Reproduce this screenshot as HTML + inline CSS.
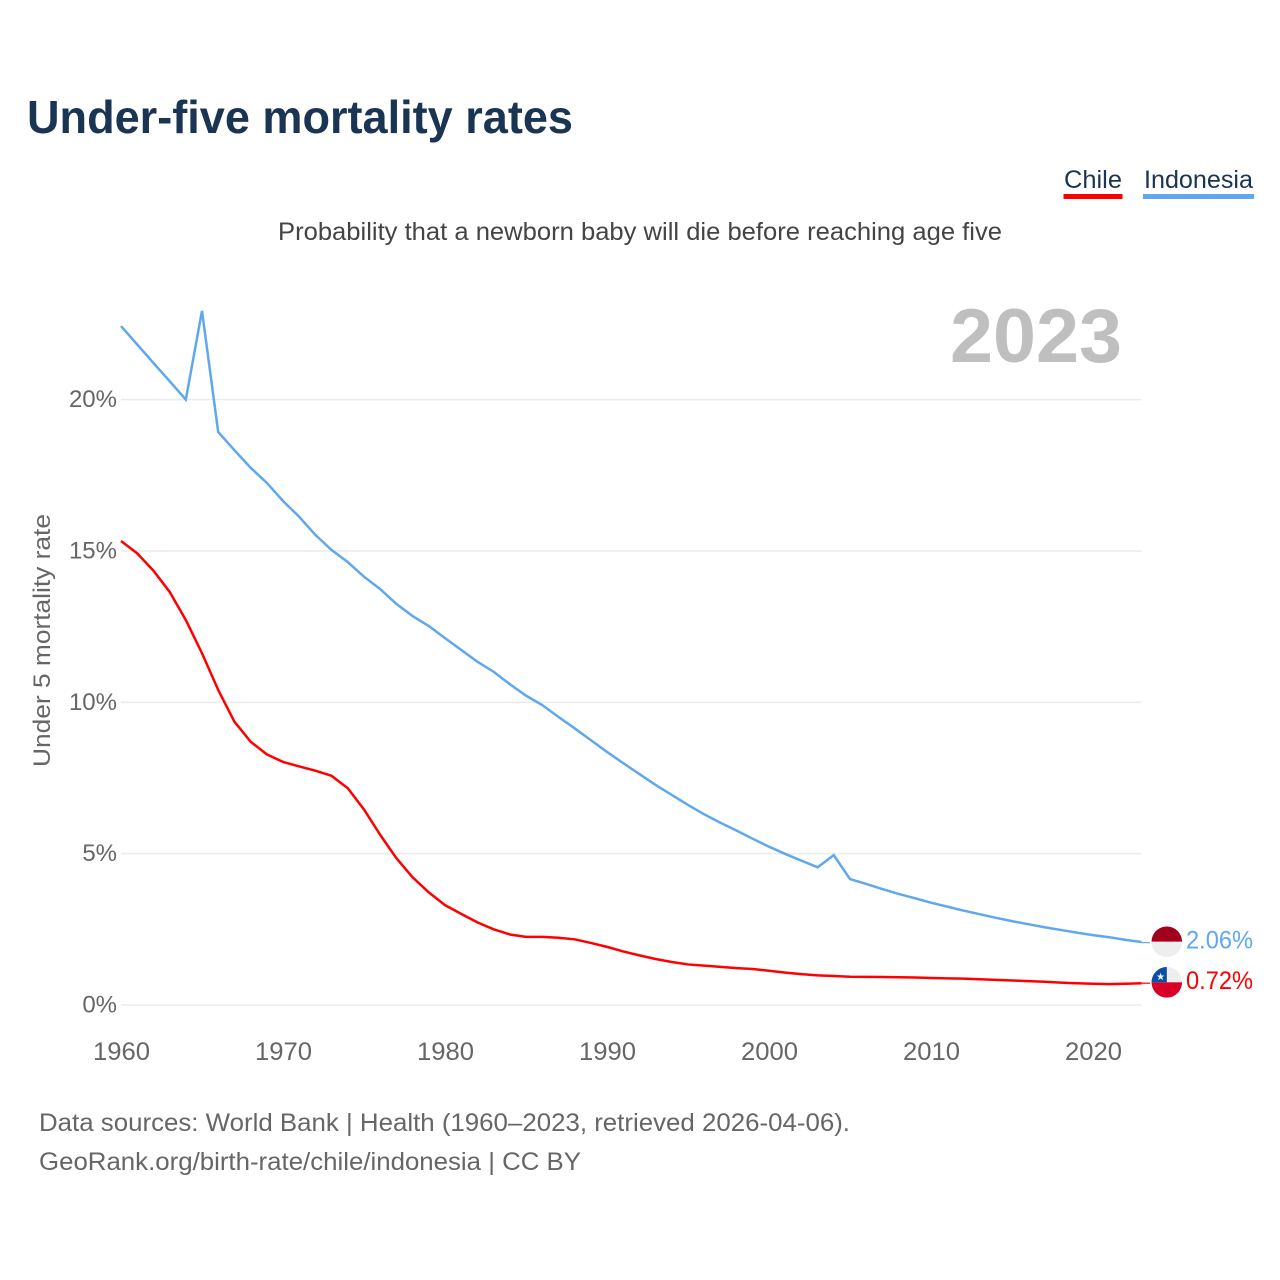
<!DOCTYPE html>
<html lang="en">
<head>
<meta charset="utf-8">
<title>Under-five mortality rates</title>
<style>
html,body{margin:0;padding:0;background:#fff;}
svg{display:block;font-family:"Liberation Sans",Arial,sans-serif;}
</style>
</head>
<body>
<svg id="chart" xmlns="http://www.w3.org/2000/svg" width="1280" height="1280" viewBox="0 0 1280 1280">
  <defs>
    <clipPath id="flag-clip-id"><circle cx="0" cy="0" r="15.3"></circle></clipPath>
  </defs>
  <rect x="0" y="0" width="1280" height="1280" fill="#ffffff"></rect>
  <text x="27" y="133" font-size="46" font-weight="700" fill="#1a3454" textLength="546" lengthAdjust="spacingAndGlyphs">Under-five mortality rates</text>
  <text x="278" y="240" font-size="25" fill="#444444" textLength="724" lengthAdjust="spacingAndGlyphs">Probability that a newborn baby will die before reaching age five</text>
  <text x="950" y="362" font-size="76" font-weight="700" fill="#bfbfbf" textLength="172" lengthAdjust="spacingAndGlyphs">2023</text>
  <text transform="translate(50,767) rotate(-90)" x="0" y="0" font-size="24" fill="#666666" textLength="253" lengthAdjust="spacingAndGlyphs">Under 5 mortality rate</text>

  <g>
    <g>
      <text x="1064" y="188" font-size="25" fill="#1a3454" textLength="58" lengthAdjust="spacingAndGlyphs">Chile</text>
      <rect x="1063.5" y="194" width="59" height="5" fill="#ff0000"></rect>
    </g>
    <g>
      <text x="1144" y="188" font-size="25" fill="#1a3454" textLength="109" lengthAdjust="spacingAndGlyphs">Indonesia</text>
      <rect x="1143" y="194" width="111" height="5" fill="#5fa8ee"></rect>
    </g>
  </g>

  <g id="grid"></g>
  <g id="y-ticks"></g>
  <g id="x-ticks"></g>
  <g id="series"></g>
  <g id="end-markers"></g>

  <text x="39" y="1131" font-size="25" fill="#666666" textLength="811" lengthAdjust="spacingAndGlyphs">Data sources: World Bank | Health (1960–2023, retrieved 2026-04-06).</text>
  <text x="39" y="1170" font-size="25" fill="#666666" textLength="542" lengthAdjust="spacingAndGlyphs">GeoRank.org/birth-rate/chile/indonesia | CC BY</text>
</svg>

<script>
const years = [1960,1961,1962,1963,1964,1965,1966,1967,1968,1969,
  1970,1971,1972,1973,1974,1975,1976,1977,1978,1979,
  1980,1981,1982,1983,1984,1985,1986,1987,1988,1989,
  1990,1991,1992,1993,1994,1995,1996,1997,1998,1999,
  2000,2001,2002,2003,2004,2005,2006,2007,2008,2009,
  2010,2011,2012,2013,2014,2015,2016,2017,2018,2019,
  2020,2021,2022,2023];

const chileValues = [15.33,14.92,14.35,13.65,12.72,11.62,10.41,9.36,8.70,8.28,
  8.03,7.88,7.74,7.57,7.16,6.46,5.62,4.85,4.22,3.72,
  3.30,3.01,2.73,2.50,2.33,2.25,2.25,2.22,2.17,2.05,
  1.92,1.77,1.64,1.52,1.42,1.34,1.30,1.26,1.22,1.19,
  1.13,1.07,1.02,0.98,0.96,0.935,0.93,0.925,0.915,0.91,
  0.89,0.88,0.87,0.85,0.83,0.81,0.79,0.77,0.74,0.72,
  0.70,0.69,0.70,0.72];

const indonesiaValues = [22.43,21.82,21.21,20.61,20.00,22.93,18.93,18.33,17.75,17.25,
  16.65,16.13,15.53,15.03,14.63,14.15,13.74,13.25,12.85,12.52,
  12.12,11.73,11.34,11.01,10.60,10.22,9.91,9.52,9.14,8.75,
  8.36,7.99,7.63,7.27,6.94,6.61,6.30,6.02,5.76,5.49,
  5.23,4.99,4.77,4.55,4.95,4.16,4.00,3.83,3.67,3.53,
  3.38,3.25,3.12,3.00,2.88,2.77,2.67,2.57,2.48,2.39,
  2.31,2.24,2.15,2.08];

const yTickValues = [0,5,10,15,20];
const yTickLabels = ['0%','5%','10%','15%','20%'];
const xTickValues = [1960,1970,1980,1990,2000,2010,2020];
const xTickLabels = ['1960','1970','1980','1990','2000','2010','2020'];

const SVG_NS = 'http://www.w3.org/2000/svg';
const X0 = 121, X1 = 1141.6, Y0 = 1005, PX_PER_PCT = 30.27;
const firstYear = years[0], lastYear = years[years.length - 1];

function xScale(year) {
  return X0 + (year - firstYear) * (X1 - X0) / (lastYear - firstYear);
}
function yScale(value) {
  return Y0 - value * PX_PER_PCT;
}
function make(tag, parent, attrs) {
  const el = document.createElementNS(SVG_NS, tag);
  for (const k in attrs) el.setAttribute(k, attrs[k]);
  parent.appendChild(el);
  return el;
}

const gridGroup = document.getElementById('grid');
const yTickGroup = document.getElementById('y-ticks');
yTickValues.forEach(function (v, i) {
  const line = make('line', gridGroup, {
    x1: X0, x2: X1, y1: yScale(v), y2: yScale(v),
    stroke: '#ececec', 'stroke-width': 1.6
  });
  
  
  const label = make('text', yTickGroup, {
    x: 117, y: yScale(v) + 7.5, 'text-anchor': 'end',
    'font-size': 24, fill: '#666666'
  });
  label.textContent = yTickLabels[i];
  
  
});

const xTickGroup = document.getElementById('x-ticks');
xTickValues.forEach(function (yr, i) {
  const label = make('text', xTickGroup, {
    x: xScale(yr) - 28, y: 1060, 'font-size': 25, fill: '#666666',
    textLength: 57, lengthAdjust: 'spacingAndGlyphs'
  });
  label.textContent = xTickLabels[i];
  
  
});

function linePath(values) {
  return values.map(function (v, i) {
    return (i ? 'L' : 'M') + xScale(years[i]).toFixed(2) + ' ' + yScale(v).toFixed(2);
  }).join(' ');
}

const seriesGroup = document.getElementById('series');
const indonesiaLine = make('path', seriesGroup, {
  d: linePath(indonesiaValues), fill: 'none', stroke: '#5fa8ee',
  'stroke-width': 2.5, 'stroke-linejoin': 'miter'
});


const chileLine = make('path', seriesGroup, {
  d: linePath(chileValues), fill: 'none', stroke: '#ff0000',
  'stroke-width': 2.5, 'stroke-linejoin': 'round'
});



/* End-of-line connector, flag and value label */
const FLAG_X = 1166.8;
const markerGroup = document.getElementById('end-markers');

function addEnd(values, labelValue, color, slug) {
  const yy = yScale(labelValue);
  const connector = make('line', markerGroup, {
    x1: X1, x2: 1150, y1: yy, y2: yy, stroke: color, 'stroke-width': 1.2
  });
  
  
  const valueLabel = make('text', markerGroup, {
    x: 1186, y: yy + 5.8, 'font-size': 25, fill: color,
    textLength: 67, lengthAdjust: 'spacingAndGlyphs'
  });
  valueLabel.textContent = labelValue.toFixed(2) + '%';
  
  
  const flag = make('g', markerGroup, {
    transform: 'translate(' + FLAG_X + ',' + (yy - 0.9) + ')',
    'clip-path': 'url(#flag-clip-id)'
  });
  
  
  return flag;
}

const indonesiaFlag = addEnd(indonesiaValues, indonesiaValues[indonesiaValues.length - 1] - 0.02, '#5fa8ee', 'indonesia');
make('rect', indonesiaFlag, { x: -16, y: -16, width: 32, height: 16, fill: '#a2001d' });
make('rect', indonesiaFlag, { x: -16, y: 0, width: 32, height: 16, fill: '#eeeeee' });

const chileFlag = addEnd(chileValues, chileValues[chileValues.length - 1], '#ff0000', 'chile');
make('rect', chileFlag, { x: -16, y: -16, width: 32, height: 16, fill: '#eeeeee' });
make('rect', chileFlag, { x: -16, y: 0, width: 32, height: 16, fill: '#d80027' });
make('rect', chileFlag, { x: -16, y: -16, width: 16, height: 16, fill: '#0d4ea6' });
make('polygon', chileFlag, {
  points: '-6.2,-9.6 -5.2,-6.8 -2.4,-6.8 -4.6,-5 -3.8,-2.2 -6.2,-3.8 -8.6,-2.2 -7.8,-5 -10,-6.8 -7.2,-6.8',
  fill: '#eeeeee'
});
</script>
</body>
</html>
